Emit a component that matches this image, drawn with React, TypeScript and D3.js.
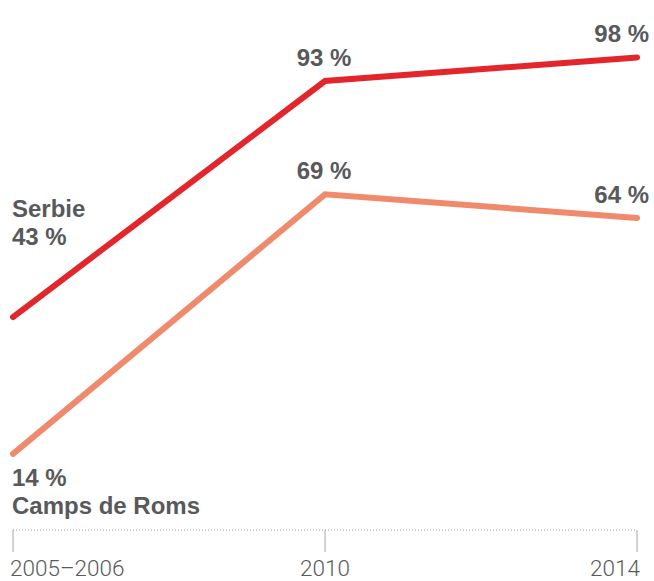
import React, { useEffect, useRef } from 'react';
import * as d3 from 'd3';

const years = ['2005–2006', '2010', '2014'];
const serbie = [43, 93, 98];
const camps = [14, 69, 64];
const seriesNames = ['Serbie', 'Camps de Roms'];

const width = 654;
const height = 581;

export default function App() {
  const ref = useRef<SVGSVGElement>(null);

  useEffect(() => {
    const svg = d3.select(ref.current);
    svg.selectAll('*').remove();

    const xScale = d3.scalePoint().domain(years).range([13, 637]);
    const yScale = d3.scaleLinear().domain([0, 100]).range([520, 48]);

    const series = [
      { name: seriesNames[0], values: serbie, color: '#e3262b' },
      { name: seriesNames[1], values: camps, color: '#ef8b6c' },
    ];

    // axis: dotted baseline + ticks
    const axisY = 530;
    svg.append('line')
      .attr('x1', xScale(years[0]))
      .attr('x2', xScale(years[years.length - 1]))
      .attr('y1', axisY).attr('y2', axisY)
      .attr('stroke', '#9a9a9a')
      .attr('stroke-width', 1)
      .attr('stroke-dasharray', '1,2');

    svg.selectAll('.tick')
      .data(years)
      .enter()
      .append('line')
      .attr('x1', d => xScale(d)).attr('x2', d => xScale(d))
      .attr('y1', axisY).attr('y2', axisY + 22)
      .attr('stroke', '#a8a8a8')
      .attr('stroke-width', 1);

    svg.selectAll('.xlabel')
      .data(years)
      .enter()
      .append('text')
      .attr('x', (d, i) => (i === 0 ? 10 : i === years.length - 1 ? 640 : xScale(d)))
      .attr('y', 576)
      .attr('text-anchor', (d, i) => (i === 0 ? 'start' : i === years.length - 1 ? 'end' : 'middle'))
      .style('font-family', 'Roboto, sans-serif')
      .style('font-weight', 300)
      .style('font-size', '22.5px')
      .attr('fill', '#5a5a5a')
      .text(d => d);

    const line = d3.line<number>()
      .x((d, i) => xScale(years[i]) as number)
      .y(d => yScale(d));

    series.forEach(s => {
      svg.append('path')
        .datum(s.values)
        .attr('d', line)
        .attr('fill', 'none')
        .attr('stroke', s.color)
        .attr('stroke-width', 6)
        .attr('stroke-linecap', 'round')
        .attr('stroke-linejoin', 'miter');
    });

    const labelStyle = (t: d3.Selection<SVGTextElement, any, any, any>) =>
      t.style('font-family', '"Liberation Sans", Arial, sans-serif')
        .style('font-weight', 700)
        .style('font-size', '24px')
        .attr('fill', '#58595b');

    // value labels for 2010 and 2014
    series.forEach(s => {
      s.values.forEach((v, i) => {
        if (i === 0) return;
        const last = i === years.length - 1;
        svg.append('text')
          .attr('x', last ? 649 : (xScale(years[i]) as number) - 1)
          .attr('y', yScale(v) - 15)
          .attr('text-anchor', last ? 'end' : 'middle')
          .call(labelStyle)
          .text(`${v} %`);
      });
    });

    // first-point labels
    const y0s = yScale(serbie[0]);
    svg.append('text').attr('x', 12).attr('y', y0s - 100).call(labelStyle).text(seriesNames[0]);
    svg.append('text').attr('x', 12).attr('y', y0s - 72).call(labelStyle).text(`${serbie[0]} %`);

    const y0c = yScale(camps[0]);
    svg.append('text').attr('x', 12).attr('y', y0c + 32).call(labelStyle).text(`${camps[0]} %`);
    svg.append('text').attr('x', 12).attr('y', y0c + 60).call(labelStyle).text(seriesNames[1]);
  }, []);

  return (
    <svg
      ref={ref}
      width={width}
      height={height}
      style={{ position: 'absolute', left: 0, top: 0, background: '#fff' }}
    />
  );
}
